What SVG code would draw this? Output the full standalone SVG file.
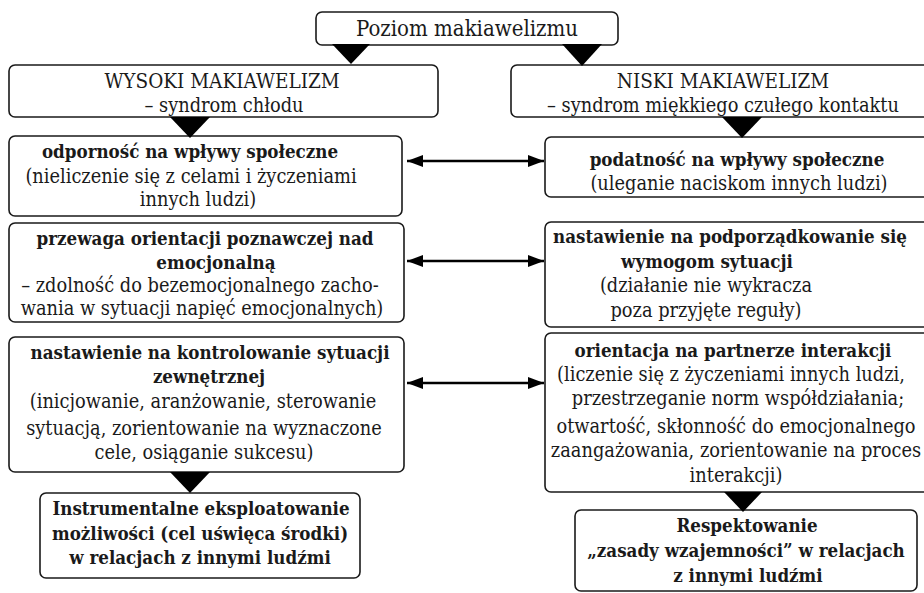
<svg xmlns="http://www.w3.org/2000/svg" width="924" height="593" viewBox="0 0 924 593">
<style>
.box{fill:#fff;stroke:#1a1a1a;stroke-width:1.6}
text{font-family:"DejaVu Serif Condensed","DejaVu Serif",serif;font-stretch:condensed;font-size:19.8px;fill:#1a1a1a;text-anchor:middle}
.b{font-weight:bold;font-size:18.6px}
.t{font-size:22px}
.cap{font-size:20.5px}
.arr{stroke:#000;stroke-width:2.6;fill:none}
.tri{fill:#000}
</style>
<defs>
<marker id="ah" viewBox="0 0 16 12" refX="16" refY="6" markerWidth="16" markerHeight="12" markerUnits="userSpaceOnUse" orient="auto-start-reverse">
<path d="M0,0 L16,6 L0,12 z" fill="#000"/>
</marker>
</defs>
<rect width="924" height="593" fill="#fff"/>

<g id="n-top">
<rect class="box" x="316" y="12" width="302" height="33" rx="6"/>
<text class="t" x="467" y="36">Poziom makiawelizmu</text>
</g>

<g id="n-wysoki">
<rect class="box" x="9" y="65" width="429" height="52" rx="6"/>
<text class="cap" x="222" y="88">WYSOKI MAKIAWELIZM</text>
<text x="224" y="112">– syndrom chłodu</text>
</g>

<g id="n-niski">
<rect class="box" x="511" y="65" width="430" height="52" rx="6"/>
<text class="cap" x="723" y="88">NISKI MAKIAWELIZM</text>
<text x="723" y="112">– syndrom miękkiego czułego kontaktu</text>
</g>

<g id="n-odpornosc">
<rect class="box" x="9" y="136" width="393" height="80" rx="6"/>
<text class="b" x="190" y="158">odporność na wpływy społeczne</text>
<text x="191" y="183">(nieliczenie się z celami i życzeniami</text>
<text x="198" y="206">innych ludzi)</text>
</g>

<g id="n-podatnosc">
<rect class="box" x="545" y="137" width="396" height="60" rx="6"/>
<text class="b" x="737" y="166">podatność na wpływy społeczne</text>
<text x="739" y="190">(uleganie naciskom innych ludzi)</text>
</g>

<g id="n-przewaga">
<rect class="box" x="9" y="223" width="395" height="99" rx="6"/>
<text class="b" x="205" y="245">przewaga orientacji poznawczej nad</text>
<text class="b" x="216" y="269">emocjonalną</text>
<text x="200" y="292">– zdolność do bezemocjonalnego zacho-</text>
<text x="202" y="315">wania w sytuacji napięć emocjonalnych)</text>
</g>

<g id="n-podporzadkowanie">
<rect class="box" x="545" y="222" width="396" height="105" rx="6"/>
<text class="b" x="730" y="243">nastawienie na podporządkowanie się</text>
<text class="b" x="707" y="268">wymogom sytuacji</text>
<text x="706" y="292">(działanie nie wykracza</text>
<text x="706" y="317">poza przyjęte reguły)</text>
</g>

<g id="n-kontrolowanie">
<rect class="box" x="9" y="337" width="395" height="135" rx="6"/>
<text class="b" x="210" y="359">nastawienie na kontrolowanie sytuacji</text>
<text class="b" x="209" y="383">zewnętrznej</text>
<text x="203" y="408">(inicjowanie, aranżowanie, sterowanie</text>
<text x="204" y="435">sytuacją, zorientowanie na wyznaczone</text>
<text x="204" y="459">cele, osiąganie sukcesu)</text>
</g>

<g id="n-orientacja">
<rect class="box" x="545" y="333" width="396" height="159" rx="6"/>
<text class="b" x="733" y="357">orientacja na partnerze interakcji</text>
<text x="731" y="381">(liczenie się z życzeniami innych ludzi,</text>
<text x="738" y="405">przestrzeganie norm współdziałania;</text>
<text x="736" y="433">otwartość, skłonność do emocjonalnego</text>
<text x="736" y="457">zaangażowania, zorientowanie na proces</text>
<text x="736" y="482">interakcji)</text>
</g>

<g id="n-instrumentalne">
<rect class="box" x="40" y="493" width="320" height="85" rx="6"/>
<text class="b" x="201" y="515">Instrumentalne eksploatowanie</text>
<text class="b" x="200" y="540">możliwości (cel uświęca środki)</text>
<text class="b" x="200" y="564">w relacjach z innymi ludźmi</text>
</g>

<g id="n-respektowanie">
<rect class="box" x="575" y="510" width="342" height="81" rx="6"/>
<text class="b" x="747" y="532">Respektowanie</text>
<text class="b" x="746" y="557">„zasady wzajemności” w relacjach</text>
<text class="b" x="748" y="582">z innymi ludźmi</text>
</g>

<g id="connectors">
<polygon class="tri" points="332,44 370,44 351,64"/>
<polygon class="tri" points="562,44 602,44 582,66"/>
<polygon class="tri" points="170,117 210,117 190,138"/>
<polygon class="tri" points="722,117 762,117 742,138"/>
<polygon class="tri" points="170,472 210,472 190,493"/>
<polygon class="tri" points="724,492 762,492 743,512"/>
<line class="arr" x1="407" y1="161" x2="544" y2="161" marker-start="url(#ah)" marker-end="url(#ah)"/>
<line class="arr" x1="407" y1="261" x2="544" y2="261" marker-start="url(#ah)" marker-end="url(#ah)"/>
<line class="arr" x1="407" y1="383" x2="544" y2="383" marker-start="url(#ah)" marker-end="url(#ah)"/>
</g>
</svg>
